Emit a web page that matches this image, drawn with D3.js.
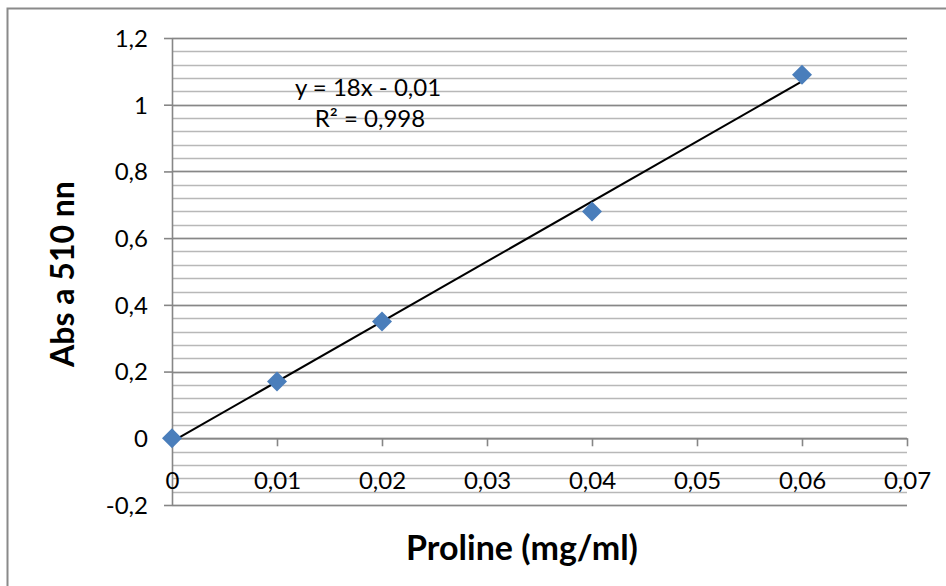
<!DOCTYPE html>
<html>
<head>
<meta charset="utf-8">
<script src="https://cdn.jsdelivr.net/npm/d3@7"></script>
<style>
  html, body { margin: 0; padding: 0; background: #fff; }
  svg { display: block; }
  .tick text { font-family: Lato, "Noto Sans", sans-serif; font-size: 24px; fill: #000; }
</style>
</head>
<body>
<div class="chart-container"></div>
<script>
// data
const proline = [0, 0.01, 0.02, 0.04, 0.06];      // mg/ml
const absorbance = [0, 0.17, 0.35, 0.68, 1.09];   // Abs at 510 nm
const xTicks = [0, 0.01, 0.02, 0.03, 0.04, 0.05, 0.06, 0.07];
const yTicks = [-0.2, 0, 0.2, 0.4, 0.6, 0.8, 1, 1.2];
const yMinorStep = 0.04;
const equationLabel = "y = 18x - 0,01";
const r2Label = "R² = 0,998";

const width = 946;
const height = 586;

const svg = d3.select(".chart-container").append("svg")
    .attr("width", width)
    .attr("height", height);

// chart border (only top/left visible in the reference)
svg.append("rect")
    .attr("x", 7.5).attr("y", 8.5)
    .attr("width", width).attr("height", height)
    .attr("fill", "none")
    .attr("stroke", "#8a8a8a")
    .attr("stroke-width", 2);

const xScale = d3.scaleLinear().domain([0, 0.07]).range([172, 907]);
const yScale = d3.scaleLinear().domain([-0.2, 1.2]).range([505, 38]);

// comma decimals like the Excel original
const fmt = d3.formatLocale({ decimal: ",", thousands: ".", grouping: [3], currency: ["", ""], minus: "-" }).format("~g");

// minor gridlines
const minor = d3.range(yTicks[0], yTicks[yTicks.length - 1] + 1e-9, yMinorStep);
svg.append("g").selectAll("line")
    .data(minor)
    .enter().append("line")
    .attr("x1", xScale(0)).attr("x2", xScale(0.07))
    .attr("y1", d => Math.round(yScale(d)) + 0.5)
    .attr("y2", d => Math.round(yScale(d)) + 0.5)
    .attr("stroke", "#b8b8b8")
    .attr("stroke-width", 1.6);

// major gridlines
svg.append("g").selectAll("line")
    .data(yTicks)
    .enter().append("line")
    .attr("x1", xScale(0)).attr("x2", xScale(0.07))
    .attr("y1", d => Math.round(yScale(d)) + 0.5)
    .attr("y2", d => Math.round(yScale(d)) + 0.5)
    .attr("stroke", "#878787")
    .attr("stroke-width", 1.6);

// axes
const yAxis = d3.axisLeft(yScale).tickValues(yTicks).tickFormat(fmt).tickSize(8).tickSizeOuter(0).tickPadding(16);
const xAxis = d3.axisBottom(xScale).tickValues(xTicks).tickFormat(fmt).tickSize(8).tickSizeOuter(0).tickPadding(26);

const gy = svg.append("g")
    .attr("transform", "translate(" + xScale(0) + ",0)")
    .call(yAxis);
const gx = svg.append("g")
    .attr("transform", "translate(0," + yScale(0) + ")")
    .call(xAxis);

[gx, gy].forEach(g => {
    g.selectAll("path, line").attr("stroke", "#868686").attr("stroke-width", 1.6);
});
gy.selectAll(".tick text").attr("dy", "0.35em");

// trendline from least squares fit
const mx = d3.mean(proline), my = d3.mean(absorbance);
const slope = d3.sum(proline, (x, i) => (x - mx) * (absorbance[i] - my)) / d3.sum(proline, x => (x - mx) * (x - mx));
const intercept = my - slope * mx;
const xr = d3.extent(proline);
svg.append("line")
    .attr("x1", xScale(xr[0])).attr("y1", yScale(slope * xr[0] + intercept))
    .attr("x2", xScale(xr[1])).attr("y2", yScale(slope * xr[1] + intercept))
    .attr("stroke", "#000")
    .attr("stroke-width", 2);

// diamond markers
const points = proline.map((x, i) => ({ x: x, y: absorbance[i] }));
svg.append("g").selectAll("path")
    .data(points)
    .enter().append("path")
    .attr("d", "M0,-10L10,0L0,10L-10,0Z")
    .attr("transform", d => "translate(" + xScale(d.x) + "," + yScale(d.y) + ")")
    .attr("fill", "#4a7ebb");

// equation labels
svg.append("text")
    .attr("x", 368).attr("y", 96)
    .attr("text-anchor", "middle")
    .style("font-family", "Lato, 'Noto Sans', sans-serif")
    .style("font-size", "24px")
    .text(equationLabel);
svg.append("text")
    .attr("x", 370).attr("y", 127)
    .attr("text-anchor", "middle")
    .style("font-family", "Lato, 'Noto Sans', sans-serif")
    .style("font-size", "24px")
    .text(r2Label);

// axis titles
svg.append("text")
    .attr("text-anchor", "middle")
    .attr("transform", "translate(" + 74 + "," + 274 + ")rotate(-90)")
    .style("font-family", "Lato, 'Noto Sans', sans-serif")
    .style("font-size", "32px")
    .style("font-weight", "bold")
    .text("Abs a 510 nn");
svg.append("text")
    .attr("text-anchor", "middle")
    .attr("x", 522).attr("y", 560)
    .style("font-family", "Lato, 'Noto Sans', sans-serif")
    .style("font-size", "34px")
    .style("font-weight", "bold")
    .text("Proline (mg/ml)");
</script>
</body>
</html>
